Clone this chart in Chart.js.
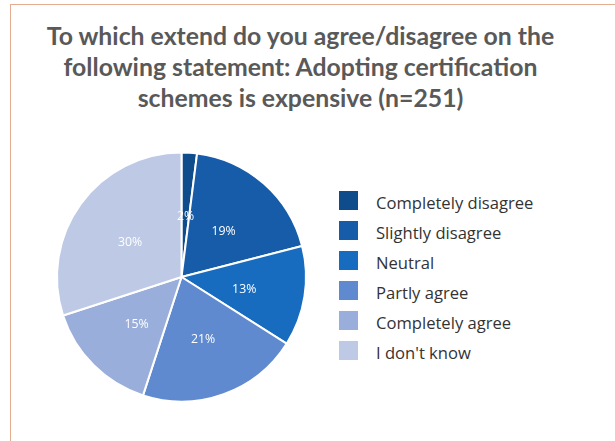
<!DOCTYPE html>
<html>
<head>
<meta charset="utf-8">
<script src="https://cdn.jsdelivr.net/npm/chart.js@4/dist/chart.umd.min.js"></script>
<style>
  html, body { margin: 0; padding: 0; background: #fff; }
  body { width: 615px; height: 441px; position: relative; overflow: hidden; }
  #frame {
    position: absolute; left: 10px; top: 4px; right: -5px; bottom: -5px;
    border-left: 1px solid #e3ad8f; border-top: 1px solid #e3ad8f;
  }
  #title {
    position: absolute; left: 0; width: 601px; top: 20px;
    text-align: center; font: 700 24.8px/31px Lato, sans-serif; color: #595959;
  }
  #pie { position: absolute; left: 49px; top: 150px; }
  #legend {
    position: absolute; left: 339px; top: 191px; margin: 0; padding: 0; list-style: none;
    font: 400 16.6px "Open Sans", sans-serif; color: #333;
  }
  #legend li { display: flex; align-items: center; height: 19px; margin-bottom: 11px; }
  #legend .box { width: 19px; height: 19px; margin-right: 18px; flex: none; }
  #legend .txt { position: relative; top: 1.5px; white-space: nowrap; }
</style>
</head>
<body>
<div id="frame"></div>
<div id="title"></div>
<canvas id="pie" width="265" height="254"></canvas>
<ul id="legend"></ul>
<script>
// survey answers
const titleLines = [
  'To which extend do you agree/disagree on the',
  'following statement: Adopting certification',
  'schemes is expensive (n=251)'
];
const categories = ['Completely disagree', 'Slightly disagree', 'Neutral', 'Partly agree', 'Completely agree', "I don't know"];
const shares = [2, 19, 13, 21, 15, 30];
const sliceColors = ['#0f4c8c', '#175ca9', '#176cc0', '#5f8acf', '#9aaedb', '#bdc9e5'];

document.getElementById('title').innerHTML = titleLines.join('<br>');

// percentage text inside each slice
const sliceLabels = {
  id: 'sliceLabels',
  afterDatasetsDraw(chart) {
    const ctx = chart.ctx;
    const meta = chart.getDatasetMeta(0);
    ctx.save();
    ctx.font = '12.3px "Open Sans", sans-serif';
    ctx.fillStyle = '#fff';
    ctx.textAlign = 'center';
    ctx.textBaseline = 'middle';
    meta.data.forEach((arc, i) => {
      const p = arc.getProps(['x', 'y', 'startAngle', 'endAngle', 'outerRadius'], true);
      const mid = (p.startAngle + p.endAngle) / 2;
      const r = p.outerRadius * 0.51;
      // digits sit a little high on the em box, nudge them down
      ctx.fillText(chart.data.datasets[0].data[i] + '%', p.x + Math.cos(mid) * r, p.y + Math.sin(mid) * r + 2.5);
    });
    ctx.restore();
  }
};

// legend list built from the chart's own labels and colours
const htmlLegend = {
  id: 'htmlLegend',
  afterUpdate(chart) {
    const ul = document.getElementById('legend');
    ul.innerHTML = '';
    const items = chart.options.plugins.legend.labels.generateLabels(chart);
    items.forEach(item => {
      const li = document.createElement('li');
      const box = document.createElement('span');
      box.className = 'box';
      box.style.background = item.fillStyle;
      const text = document.createElement('span');
      text.className = 'txt';
      text.textContent = item.text;
      li.appendChild(box);
      li.appendChild(text);
      ul.appendChild(li);
    });
  }
};

new Chart(document.getElementById('pie'), {
  type: 'pie',
  data: {
    labels: categories,
    datasets: [{
      data: shares,
      backgroundColor: sliceColors,
      borderColor: '#fff',
      borderWidth: 2
    }]
  },
  options: {
    responsive: false,
    animation: false,
    radius: 124.5,
    layout: { padding: 0 },
    plugins: {
      legend: { display: false },
      tooltip: { enabled: false }
    }
  },
  plugins: [sliceLabels, htmlLegend]
});
</script>
</body>
</html>
